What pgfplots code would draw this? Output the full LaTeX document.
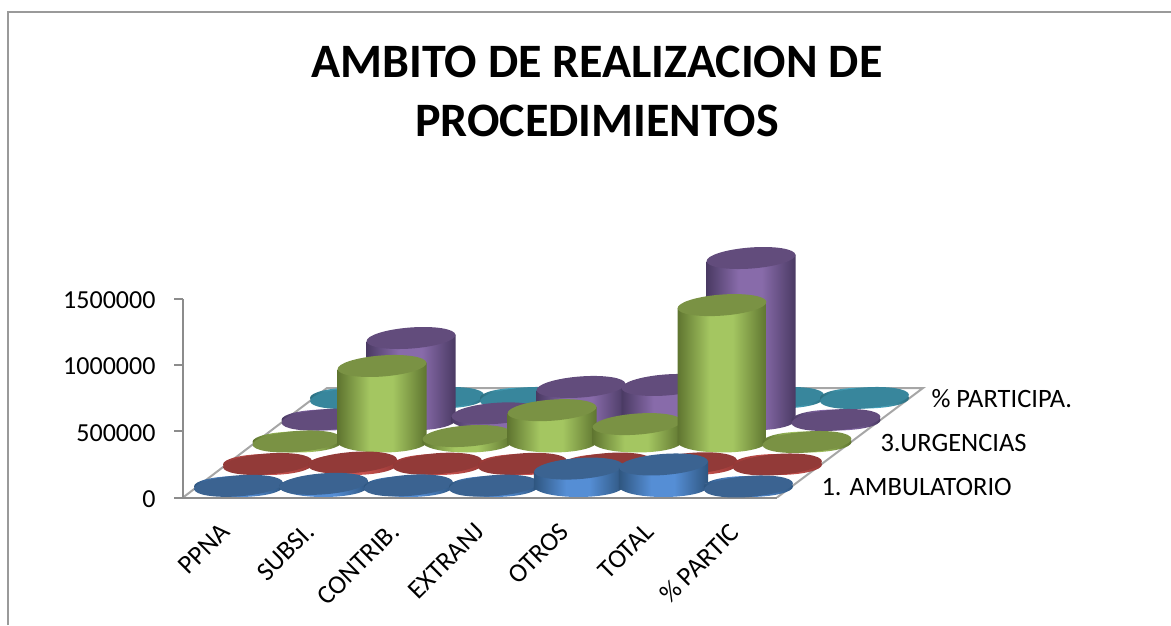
\documentclass[border=0pt]{standalone}
\usepackage{pgfplots}
\usepackage{pgfplotstable}
\usepackage{fontspec}
\setmainfont{Carlito}
\pgfplotsset{compat=1.18}

\definecolor{framegray}{HTML}{9A9A9A}
\definecolor{axisgray}{HTML}{8C8C8C}
\definecolor{floorgray}{HTML}{A6A6A6}

\definecolor{bluetop}{HTML}{3B6391}
\definecolor{blueedge}{HTML}{2F5680}
\definecolor{bluemid}{HTML}{558ED5}
\definecolor{redtop}{HTML}{923A38}
\definecolor{rededge}{HTML}{953735}
\definecolor{redmid}{HTML}{C9534F}
\definecolor{greentop}{HTML}{7A9244}
\definecolor{greenedge}{HTML}{5F7530}
\definecolor{greenmid}{HTML}{A4C661}
\definecolor{purpletop}{HTML}{624C7C}
\definecolor{purpleedge}{HTML}{4A3A63}
\definecolor{purplemid}{HTML}{886BAA}
\definecolor{tealtop}{HTML}{38869C}
\definecolor{tealedge}{HTML}{2C6E80}
\definecolor{tealmid}{HTML}{4BACC6}

% one side shading and one base mark per series
\newcommand{\cylstyle}[1]{%
  \pgfdeclarehorizontalshading{#1side}{100bp}{%
    color(0bp)=(#1edge); color(25bp)=(#1edge); color(43bp)=(#1mid);
    color(56bp)=(#1mid); color(75bp)=(#1edge); color(100bp)=(#1edge)}%
  \pgfdeclareplotmark{#1base}{%
    \path[draw=none,shade,shading=#1side,rotate=4.3] (0,0) ellipse (44.5pt and 10.5pt);}%
}
\cylstyle{blue}\cylstyle{red}\cylstyle{green}\cylstyle{purple}\cylstyle{teal}

\pgfdeclareplotmark{cyltop}{%
  \pgfpathellipse{\pgfpointorigin}{\pgfqpoint{44.4pt}{3.3pt}}{\pgfqpoint{-0.8pt}{10.5pt}}%
  \pgfusepathqfill}

\pgfplotstableread{
i a      b     c       d       e
0 5000   4000  4000    3000    100
1 20000  15000 573000  618000  100
2 8000   6000  45000   50000   100
3 6000   5000  240000  249000  100
4 135000 7000  135000  264000  100
5 166000 9000  1032000 1221000 100
6 100    100   100     100     100
}\datatable

% #1 series colour, #2 table column, #3 x of first category, #4 y of the floor
\newcommand{\cylrow}[4]{%
  \begin{axis}[
    at={(#3pt,#4pt)}, anchor=south west,
    scale only axis, width=510pt, height=199pt,
    xmin=0, xmax=6, ymin=0, ymax=1500000,
    hide axis, clip=false, clip marker paths=true,
  ]
  \pgfplotsinvokeforeach{0,...,6}{
    \addplot[only marks, draw=none, mark=#1base, restrict x to domain=##1:##1]
      table[x=i,y expr=0] {\datatable};
    % sides tilted like the ellipses, so their corners meet the tips
    \addplot[ybar, bar width=89pt, bar shift=0pt, draw=none, shade, shading=#1side,
      yshift={-6.375pt*##1}, yslant=0.075,
      restrict x to domain=##1:##1, restrict y to domain=3000:2000000]
      table[x=i,y=#2] {\datatable};
    \addplot[only marks, mark=cyltop, mark options={draw=none,fill=#1top},
      restrict x to domain=##1:##1]
      table[x=i,y=#2] {\datatable};
  }
  \end{axis}%
}

\begin{document}
\begin{tikzpicture}
\path[use as bounding box] (0,0) rectangle (1171pt,625pt);

% canvas in pixels: frame, floor, title, series names
\begin{axis}[
  at={(0pt,0pt)}, anchor=south west,
  scale only axis, width=1171pt, height=625pt,
  xmin=0, xmax=1171, ymin=0, ymax=625, y dir=reverse,
  hide axis, clip=false,
]
\addplot[framegray, line width=2pt] coordinates {(8,625) (8,12) (1171,12)};
\addplot[floorgray, line width=2pt] coordinates {(183,497.5) (327,388) (923,388) (777,497.5)};
\node[align=center, font=\fontsize{48}{59}\selectfont\bfseries] at (axis cs:597,91)
  {AMBITO DE REALIZACION DE\\PROCEDIMIENTOS};
\node[anchor=west, font=\fontsize{26.5}{32}\selectfont] at (axis cs:928,399) {\% PARTICIPA.};
\node[anchor=west, font=\fontsize{26.5}{32}\selectfont] at (axis cs:877,443) {3.URGENCIAS};
\node[anchor=west, font=\fontsize{26.5}{32}\selectfont] at (axis cs:818,487) {1. AMBULATORIO};
\end{axis}

% value axis and category names
\begin{axis}[
  at={(183pt,127.5pt)}, anchor=south west,
  scale only axis, width=594pt, height=199pt,
  xmin=0, xmax=7, ymin=0, ymax=1500000,
  axis x line*=bottom, axis y line*=left,
  axis line style={axisgray, line width=2pt},
  xtick={0.5,1.5,2.5,3.5,4.5,5.5,6.5},
  xticklabels={PPNA,SUBSI.,CONTRIB.,EXTRANJ,OTROS,TOTAL,\% PARTIC},
  x tick label style={xshift=-6.5pt, yshift=-10pt, rotate=45, anchor=north east, font=\fontsize{26.5}{32}\selectfont},
  x tick style={draw=none},
  ytick={0,500000,1000000,1500000},
  y tick style={axisgray, line width=2pt},
  y tick label style={font=\fontsize{26}{31}\selectfont, xshift=-15pt, yshift=-1.5pt},
  tick align=outside, major tick length=9pt,
  /pgf/number format/fixed, /pgf/number format/1000 sep={},
  /pgf/number format/assume math mode=true,
  scaled y ticks=false,
]
\end{axis}

% rows back to front
\cylrow{teal}{e}{354.5}{227}
\cylrow{purple}{d}{326}{205}
\cylrow{green}{c}{297}{183}
\cylrow{red}{b}{267.5}{160.5}
\cylrow{blue}{a}{238.5}{138.5}
\end{tikzpicture}
\end{document}
